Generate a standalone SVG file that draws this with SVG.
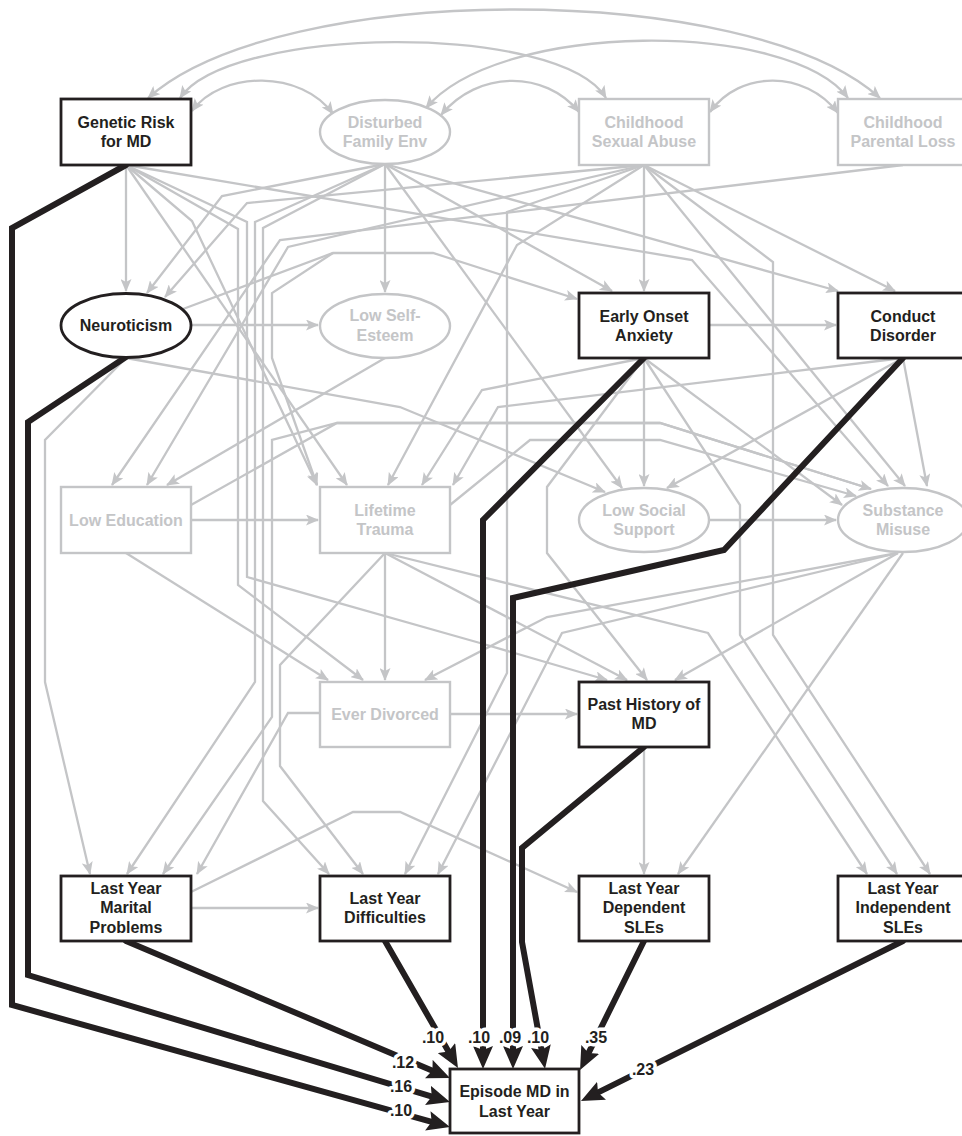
<svg xmlns="http://www.w3.org/2000/svg" width="962" height="1136" viewBox="0 0 962 1136">
<defs>
<style>
.cg{fill:none;stroke:#c4c5c7;stroke-width:2.3;stroke-linejoin:miter;marker-end:url(#ag)}
.cc{fill:none;stroke:#c4c5c7;stroke-width:2.3;marker-start:url(#ag);marker-end:url(#ag)}
.ck{fill:none;stroke:#231f20;stroke-width:6;stroke-linejoin:miter;stroke-linecap:round;marker-end:url(#ab)}
.nb{fill:#fff;stroke:#231f20;stroke-width:2.8}
.ng{fill:#fff;stroke:#c4c5c7;stroke-width:2.4}
text{font-family:"Liberation Sans",Arial,Helvetica,sans-serif;font-weight:bold;font-size:16px;text-anchor:middle}
.tb{fill:#231f20}
.tg{fill:#c4c5c7}
.lb{font-size:16px;fill:#231f20;stroke:#fff;stroke-width:7;stroke-linejoin:round;paint-order:stroke}
</style>
<marker id="ag" markerUnits="userSpaceOnUse" markerWidth="13" markerHeight="11" viewBox="0 0 13 11" refX="12" refY="5.5" orient="auto-start-reverse">
<path d="M0,0 L13,5.5 L0,11 L3,5.5 z" fill="#c4c5c7"/>
</marker>
<marker id="ab" markerUnits="userSpaceOnUse" markerWidth="23" markerHeight="20" viewBox="0 0 23 20" refX="6" refY="10" orient="auto">
<path d="M0,0 L23,10 L0,20 L4,10 z" fill="#231f20"/>
</marker>
</defs>
<rect width="962" height="1136" fill="#fff"/>

<g id="connectors">
<!-- correlations among the exogenous variables -->
<g id="correlations">
<path class="cc" d="M192,111 C222,70 302,70 333,114"/>
<path class="cc" d="M441,115 C478,70 545,70 579,112"/>
<path class="cc" d="M710,112 C740,70 805,70 838,113"/>
<path class="cc" d="M180,98 C230,25 560,22 606,98"/>
<path class="cc" d="M426,108 C500,20 790,20 848,98"/>
<path class="cc" d="M148,98 C280,-20 750,-20 880,98"/>
</g>
<!-- paths not reaching the outcome -->
<g id="paths-grey">
<path class="cg" d="M126,165 V291"/>
<path class="cg" d="M126,165 L192,221 L317,485"/>
<path class="cg" d="M126,165 L347,485"/>
<path class="cg" d="M126,165 L238,229 L238,585 L363,680"/>
<path class="cg" d="M126,165 L247,222 L247,577 L480,643 L607,680"/>
<path class="cg" d="M126,165 L692,260 L888,486"/>
<path class="cg" d="M385,164 L222,196 L147,293"/>
<path class="cg" d="M385,164 V292"/>
<path class="cg" d="M385,164 L612,291"/>
<path class="cg" d="M385,164 L838,291"/>
<path class="cg" d="M385,164 L622,488"/>
<path class="cg" d="M385,164 L255,222 L255,682 L127,874"/>
<path class="cg" d="M385,164 L263,228 L263,801 L329,874"/>
<path class="cg" d="M644,165 L247,203 L165,297"/>
<path class="cg" d="M644,165 L288,247 L147,485"/>
<path class="cg" d="M644,165 L517,245 L388,485"/>
<path class="cg" d="M644,165 L507,212 L507,673 L405,874"/>
<path class="cg" d="M644,165 V291"/>
<path class="cg" d="M644,165 L895,291"/>
<path class="cg" d="M644,165 L905,486"/>
<path class="cg" d="M644,165 L773,262 L773,635 L930,874"/>
<path class="cg" d="M903,165 L280,240 L112,485"/>
<path class="cg" d="M191,325 L318,325"/>
<path class="cg" d="M183,309 L333,253 L433,253 L577,299"/>
<path class="cg" d="M333,253 L272,293 L272,358 L317,485"/>
<path class="cg" d="M126,358 L400,407 L605,492"/>
<path class="cg" d="M126,358 L45,440 L45,682 L90,874"/>
<path class="cg" d="M385,358 L167,485"/>
<path class="cg" d="M871,489 L660,423 L337,423 L272,440 L272,717 L163,874"/>
<path class="cg" d="M709,325 L836,325"/>
<path class="cg" d="M644,358 L482,390 L422,485"/>
<path class="cg" d="M644,358 V486"/>
<path class="cg" d="M644,358 L547,487 L547,553 L647,680"/>
<path class="cg" d="M644,358 L842,505"/>
<path class="cg" d="M644,358 L740,505 L740,635 L897,874"/>
<path class="cg" d="M903,358 L498,407 L453,485"/>
<path class="cg" d="M903,358 L667,488"/>
<path class="cg" d="M903,358 L927,486"/>
<path class="cg" d="M191,520 L318,520"/>
<path class="cg" d="M126,553 L328,680"/>
<path class="cg" d="M191,505 L337,423 L660,423 L871,489"/>
<path class="cg" d="M450,505 L530,440 L660,440 L856,496"/>
<path class="cg" d="M385,553 V680"/>
<path class="cg" d="M385,553 L627,680"/>
<path class="cg" d="M385,553 L280,665 L280,766 L363,874"/>
<path class="cg" d="M385,553 L708,633 L867,874"/>
<path class="cg" d="M709,520 L836,520"/>
<path class="cg" d="M898,553 L547,617 L425,680"/>
<path class="cg" d="M898,553 L562,633 L438,874"/>
<path class="cg" d="M898,553 L675,680"/>
<path class="cg" d="M903,553 L678,874"/>
<path class="cg" d="M450,714 L577,714"/>
<path class="cg" d="M320,713 L288,713 L197,874"/>
<path class="cg" d="M644,747 V874"/>
<path class="cg" d="M191,908 L318,908"/>
<path class="cg" d="M191,892 L353,812 L400,812 L577,892"/>
</g>
<!-- significant direct paths to the outcome -->
<g id="paths-black">
<path class="ck" d="M126,165 L12,228 L12,1005 L433.6,1122.4"/>
<path class="ck" d="M126,357 L28,422 L28,975 L433.7,1097.1"/>
<path class="ck" d="M126,941 L434.3,1071.4"/>
<path class="ck" d="M385,941 L449.5,1053.3"/>
<path class="ck" d="M644,358 L483,520 L483,1052"/>
<path class="ck" d="M903,358 L724,550 L513,598 L513,1052"/>
<path class="ck" d="M644,747 L522,848 L522,942 L542,1052"/>
<path class="ck" d="M644,941 L587.6,1054.8"/>
<path class="ck" d="M903,941 L596.2,1093.4"/>
</g>
</g>

<g id="nodes">
<g id="genetic-risk"><rect class="nb" x="61" y="99" width="130" height="66"/><text class="tb" x="126" y="128">Genetic Risk</text><text class="tb" x="126" y="147">for MD</text></g>
<g id="disturbed-family"><ellipse class="ng" cx="385" cy="132" rx="65" ry="32"/><text class="tg" x="385" y="128">Disturbed</text><text class="tg" x="385" y="147">Family Env</text></g>
<g id="sexual-abuse"><rect class="ng" x="579" y="99" width="130" height="66"/><text class="tg" x="644" y="128">Childhood</text><text class="tg" x="644" y="147">Sexual Abuse</text></g>
<g id="parental-loss"><rect class="ng" x="838" y="99" width="130" height="66"/><text class="tg" x="903" y="128">Childhood</text><text class="tg" x="903" y="147">Parental Loss</text></g>

<g id="neuroticism"><ellipse class="nb" cx="126" cy="325.5" rx="65" ry="32"/><text class="tb" x="126" y="331">Neuroticism</text></g>
<g id="self-esteem"><ellipse class="ng" cx="385" cy="326" rx="65" ry="32"/><text class="tg" x="385" y="321">Low Self-</text><text class="tg" x="385" y="340.5">Esteem</text></g>
<g id="early-anxiety"><rect class="nb" x="579" y="293" width="130" height="65"/><text class="tb" x="644" y="321.5">Early Onset</text><text class="tb" x="644" y="340.5">Anxiety</text></g>
<g id="conduct-disorder"><rect class="nb" x="838" y="293" width="130" height="65"/><text class="tb" x="903" y="321.5">Conduct</text><text class="tb" x="903" y="340.5">Disorder</text></g>

<g id="low-education"><rect class="ng" x="61" y="487" width="130" height="66"/><text class="tg" x="126" y="525.5">Low Education</text></g>
<g id="lifetime-trauma"><rect class="ng" x="320" y="487" width="130" height="66"/><text class="tg" x="385" y="515.5">Lifetime</text><text class="tg" x="385" y="535">Trauma</text></g>
<g id="social-support"><ellipse class="ng" cx="644" cy="520" rx="65" ry="32"/><text class="tg" x="644" y="515.5">Low Social</text><text class="tg" x="644" y="535">Support</text></g>
<g id="substance-misuse"><ellipse class="ng" cx="903" cy="520" rx="65" ry="32"/><text class="tg" x="903" y="515.5">Substance</text><text class="tg" x="903" y="535">Misuse</text></g>

<g id="ever-divorced"><rect class="ng" x="320" y="682" width="130" height="65"/><text class="tg" x="385" y="719.5">Ever Divorced</text></g>
<g id="past-history"><rect class="nb" x="579" y="682" width="130" height="65"/><text class="tb" x="644" y="709.5">Past History of</text><text class="tb" x="644" y="728.5">MD</text></g>

<g id="marital-problems"><rect class="nb" x="61" y="876" width="130" height="65"/><text class="tb" x="126" y="893.5">Last Year</text><text class="tb" x="126" y="913">Marital</text><text class="tb" x="126" y="932.5">Problems</text></g>
<g id="difficulties"><rect class="nb" x="320" y="876" width="130" height="65"/><text class="tb" x="385" y="904">Last Year</text><text class="tb" x="385" y="923">Difficulties</text></g>
<g id="dependent-sles"><rect class="nb" x="579" y="876" width="130" height="65"/><text class="tb" x="644" y="893.5">Last Year</text><text class="tb" x="644" y="913">Dependent</text><text class="tb" x="644" y="932.5">SLEs</text></g>
<g id="independent-sles"><rect class="nb" x="838" y="876" width="130" height="65"/><text class="tb" x="903" y="893.5">Last Year</text><text class="tb" x="903" y="913">Independent</text><text class="tb" x="903" y="932.5">SLEs</text></g>

<g id="episode-md"><rect class="nb" x="450" y="1069" width="129" height="64"/><text class="tb" x="514.5" y="1096.5">Episode MD in</text><text class="tb" x="514.5" y="1116.5">Last Year</text></g>
</g>

<g id="coefficients">
<text class="lb" x="401" y="1116">.10</text>
<text class="lb" x="401" y="1092">.16</text>
<text class="lb" x="403" y="1068">.12</text>
<text class="lb" x="433" y="1043">.10</text>
<text class="lb" x="479" y="1043">.10</text>
<text class="lb" x="510" y="1043">.09</text>
<text class="lb" x="538" y="1043">.10</text>
<text class="lb" x="596" y="1043">.35</text>
<text class="lb" x="643" y="1075">.23</text>
</g>
</svg>
